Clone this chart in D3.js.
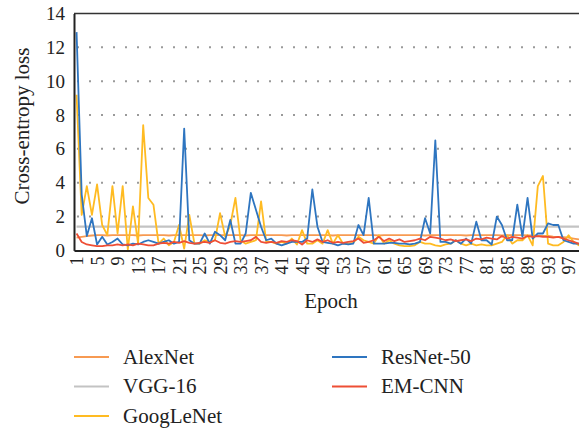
<!DOCTYPE html>
<html>
<head>
<meta charset="utf-8">
<script src="https://cdn.jsdelivr.net/npm/d3@7/dist/d3.min.js"></script>
<style>
  html, body { margin: 0; padding: 0; background: #fff; }
  svg { display: block; }
  svg text { font-family: "Liberation Serif", "Times New Roman", serif !important; fill: #222; }
</style>
</head>
<body>
<svg id="chart" width="579" height="430"></svg>
<script>
// ---- data ----
const epochs = d3.range(1, 101);
const xTickLabels = [1,5,9,13,17,21,25,29,33,37,41,45,49,53,57,61,65,69,73,77,81,85,89,93,97];
const yTickLabels = [0,2,4,6,8,10,12,14];
const seriesNames = ["AlexNet", "VGG-16", "GoogLeNet", "ResNet-50", "EM-CNN"];
const seriesColors = ["#f79a52", "#c3c3c3", "#ffbb22", "#2e75c0", "#ee4e35"];

const alexNet = [
  0.75,0.8,0.85,0.88,0.9,0.9,0.88,0.9,0.9,0.9,
  0.9,0.9,0.88,0.9,0.9,0.9,0.9,0.9,0.88,0.9,
  0.9,0.9,0.9,0.9,0.9,0.88,0.9,0.9,0.9,0.9,
  0.9,0.9,0.9,0.88,0.9,0.9,0.9,0.9,0.9,0.9,
  0.9,0.88,0.9,0.9,0.9,0.9,0.9,0.9,0.9,0.9,
  0.88,0.9,0.9,0.9,0.9,0.9,0.9,0.9,0.9,0.88,
  0.9,0.9,0.9,0.9,0.9,0.9,0.9,0.9,0.88,0.9,
  0.9,0.9,0.9,0.9,0.9,0.9,0.88,0.9,0.9,0.9,
  0.9,0.9,0.9,0.88,0.9,0.9,0.9,0.9,0.88,0.88,
  0.85,0.85,0.85,0.82,0.8,0.78,0.75,0.7,0.65,0.6
];
const vgg16 = [
  1.4,1.4,1.4,1.4,1.4,1.4,1.4,1.4,1.4,1.4,
  1.4,1.4,1.4,1.4,1.4,1.4,1.4,1.4,1.4,1.4,
  1.4,1.4,1.4,1.4,1.4,1.4,1.4,1.4,1.4,1.4,
  1.4,1.4,1.4,1.4,1.4,1.4,1.4,1.4,1.4,1.4,
  1.4,1.4,1.4,1.4,1.4,1.4,1.4,1.4,1.4,1.4,
  1.4,1.4,1.4,1.4,1.4,1.4,1.4,1.4,1.4,1.4,
  1.4,1.4,1.4,1.4,1.4,1.4,1.4,1.4,1.4,1.4,
  1.4,1.4,1.4,1.4,1.4,1.4,1.4,1.4,1.4,1.4,
  1.4,1.4,1.4,1.4,1.4,1.4,1.4,1.4,1.4,1.4,
  1.4,1.4,1.4,1.4,1.4,1.4,1.4,1.4,1.4,1.4
];
const googLeNet = [
  9.2,2.1,3.8,2.1,3.9,1.5,0.9,3.8,1.0,3.8,
  0.05,2.6,0.4,7.4,3.1,2.7,0.4,0.7,0.3,0.5,
  1.5,0.1,2.1,0.4,0.4,0.6,0.5,0.6,2.2,0.8,
  1.5,3.1,0.6,0.4,0.5,0.6,2.9,0.5,0.5,0.4,
  0.5,0.4,0.7,0.35,1.2,0.4,0.4,0.6,0.4,1.2,
  0.4,0.9,0.4,0.4,0.45,0.8,0.6,0.5,0.4,0.9,
  0.4,0.6,0.4,0.3,0.25,0.25,0.3,0.5,0.4,0.4,
  0.3,0.25,0.35,0.4,0.6,0.4,0.3,0.4,0.3,0.35,
  0.3,0.3,0.4,0.5,0.9,0.4,0.6,0.6,0.9,0.3,
  3.8,4.4,0.4,0.3,0.3,0.5,0.9,0.5,0.3,0.3
];
const resNet50 = [
  12.9,3.3,0.85,1.9,0.35,0.8,0.35,0.5,0.7,0.35,
  0.3,0.4,0.35,0.5,0.6,0.5,0.4,0.5,0.6,0.4,
  0.5,7.2,0.6,0.4,0.4,1.0,0.4,1.1,0.9,0.6,
  1.8,0.4,0.4,1.0,3.4,2.4,1.4,0.6,0.7,0.4,
  0.3,0.4,0.5,0.5,0.5,0.7,3.6,1.4,0.5,0.45,
  0.4,0.3,0.4,0.35,0.4,1.5,0.9,3.1,0.4,0.4,
  0.4,0.45,0.45,0.4,0.4,0.35,0.4,0.5,1.9,1.0,
  6.5,0.5,0.5,0.4,0.6,0.4,0.7,0.4,1.7,0.6,
  0.6,0.35,2.0,1.5,0.6,0.6,2.7,0.8,3.1,0.7,
  1.0,1.0,1.6,1.5,1.5,0.6,0.5,0.4,0.4,0.4
];
const emCnn = [
  1.0,0.5,0.35,0.3,0.25,0.25,0.3,0.3,0.35,0.3,
  0.35,0.3,0.4,0.35,0.3,0.3,0.4,0.45,0.4,0.5,
  0.45,0.55,0.45,0.4,0.45,0.5,0.45,0.6,0.45,0.4,
  0.5,0.55,0.5,0.55,0.6,0.8,0.5,0.45,0.5,0.45,
  0.55,0.5,0.6,0.55,0.35,0.6,0.5,0.65,0.5,0.6,
  0.45,0.5,0.45,0.5,0.55,0.7,0.45,0.5,0.6,0.8,
  0.55,0.7,0.55,0.65,0.5,0.55,0.6,0.7,0.6,0.8,
  0.75,0.7,0.6,0.65,0.55,0.6,0.65,0.55,0.7,0.65,
  0.75,0.7,0.65,0.85,0.7,0.8,0.75,0.7,0.85,0.8,
  0.85,0.8,0.8,0.75,0.8,0.7,0.6,0.5,0.4,0.35
];
const seriesValues = [alexNet, vgg16, googLeNet, resNet50, emCnn];

// ---- layout ----
const svg = d3.select("#chart");
const plotLeft = 74, plotRight = 586.5, plotTop = 13.5, plotBottom = 250.4;
const serif = '"Liberation Serif", "Times New Roman", serif';

const x = d3.scalePoint().domain(epochs).range([plotLeft, plotRight]).padding(0.5);
const y = d3.scaleLinear().domain([0, 14]).range([plotBottom, plotTop]);

// gridlines (dotted)
svg.append("g").selectAll("line")
  .data(yTickLabels.filter(d => d > 0 && d < 14))
  .join("line")
  .attr("x1", plotLeft + 3).attr("x2", 579)
  .attr("y1", d => y(d)).attr("y2", d => y(d))
  .attr("stroke", "#9a9a9a").attr("stroke-width", 2)
  .attr("stroke-dasharray", "2,10");

// series lines
const line = d3.line().x((d, i) => x(epochs[i])).y(d => y(d));
const gLines = svg.append("g");
seriesValues.forEach((vals, k) => {
  gLines.append("path")
    .datum(vals)
    .attr("d", line)
    .attr("fill", "none")
    .attr("stroke", seriesColors[k])
    .attr("stroke-width", k === 1 ? 2.2 : 1.8)
    .attr("stroke-linejoin", "round");
});

// frame: top border
svg.append("line").attr("x1", plotLeft).attr("x2", 579).attr("y1", plotTop).attr("y2", plotTop)
  .attr("stroke", "#333").attr("stroke-width", 1.6);

// y axis
const yAxis = d3.axisLeft(y).tickValues(yTickLabels).tickSize(0).tickPadding(9);
const gy = svg.append("g").attr("transform", `translate(${plotLeft},0)`).call(yAxis);
gy.attr("font-family", serif);
gy.select(".domain").attr("stroke", "#222").attr("stroke-width", 2);
gy.selectAll("text").attr("font-size", 19).style("font-family", serif).style("font-size", "19px");

// x axis
const xAxis = d3.axisBottom(x).tickValues(xTickLabels).tickSize(0).tickPadding(0);
const gx = svg.append("g").attr("transform", `translate(0,${plotBottom})`).call(xAxis);
gx.attr("font-family", serif);
gx.select(".domain").attr("stroke", "#222").attr("stroke-width", 2);
gx.selectAll("text")
  .style("font-family", serif).style("font-size", "18px")
  .attr("text-anchor", "end")
  .attr("dy", null)
  .attr("y", 0)
  .attr("dominant-baseline", "central")
  .attr("transform", "translate(0,6) rotate(-90)");

// axis titles
svg.append("text")
  .attr("transform", `translate(22,126) rotate(-90)`)
  .attr("text-anchor", "middle").attr("dominant-baseline", "central")
  .style("font-family", serif).style("font-size", "21px")
  .text("Cross-entropy loss");

svg.append("text")
  .attr("x", 331).attr("y", 308)
  .attr("text-anchor", "middle")
  .style("font-family", serif).style("font-size", "21px")
  .text("Epoch");

// legend
const legendPos = [
  {x: 74, y: 357}, {x: 74, y: 386.5}, {x: 74, y: 416},
  {x: 332, y: 357}, {x: 332, y: 386.5}
];
const lg = svg.append("g");
seriesNames.forEach((name, k) => {
  const p = legendPos[k];
  lg.append("line").attr("x1", p.x).attr("x2", p.x + 35)
    .attr("y1", p.y).attr("y2", p.y)
    .attr("stroke", seriesColors[k]).attr("stroke-width", 2);
  lg.append("text").attr("x", p.x + 49).attr("y", p.y + 6.5)
    .style("font-family", serif).style("font-size", "21px")
    .text(name);
});
</script>
</body>
</html>
